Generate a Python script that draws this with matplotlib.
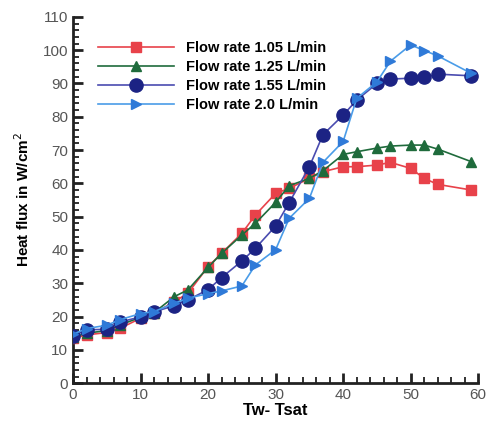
import matplotlib.pyplot as plt
from matplotlib.ticker import MultipleLocator

# Tw - Tsat values (shared by all series)
tw_tsat = [0, 2, 5, 7, 10, 12, 15, 17, 20, 22, 25, 27,
           30, 32, 35, 37, 40, 42, 45, 47, 50, 52, 54, 59]

flux_105 = [13.5, 14.5, 15.2, 16.5, 19.5, 21.0, 24.5, 27.0, 35.0, 39.0, 45.0, 50.5,
            57.0, 58.5, 61.5, 63.5, 65.0, 65.0, 65.5, 66.3, 64.5, 61.5, 59.7, 58.0]
flux_125 = [13.8, 15.0, 15.8, 17.5, 19.8, 21.2, 26.0, 28.0, 34.8, 39.0, 44.5, 48.0,
            54.3, 59.3, 61.5, 63.8, 68.7, 69.5, 70.6, 71.2, 71.5, 71.5, 70.3, 66.5]
flux_155 = [14.1, 16.0, 16.2, 18.4, 19.9, 21.4, 23.3, 25.0, 28.1, 31.7, 36.7, 40.5,
            47.2, 54.2, 65.0, 74.6, 80.5, 85.0, 90.0, 91.3, 91.6, 91.8, 92.8, 92.3]
flux_200 = [14.7, 16.4, 17.4, 19.1, 20.9, 21.5, 24.0, 25.5, 26.9, 27.7, 29.2, 35.5,
            40.1, 49.5, 55.5, 66.3, 72.6, 85.5, 90.5, 96.7, 101.6, 99.9, 98.3, 93.0]

labels = ['Flow rate 1.05 L/min', 'Flow rate 1.25 L/min',
          'Flow rate 1.55 L/min', 'Flow rate 2.0 L/min']

plt.rcParams['font.family'] = ['Liberation Sans', 'DejaVu Sans']

fig = plt.figure(figsize=(4.87, 4.22), dpi=100)
ax = fig.add_axes([0.15, 0.092, 0.832, 0.868])

ax.plot(tw_tsat, flux_105, color='#e8424a', marker='s', markersize=6.5,
        linewidth=1.2, label=labels[0], zorder=3)
ax.plot(tw_tsat, flux_125, color='#1f6b3c', marker='^', markersize=7,
        linewidth=1.2, label=labels[1], zorder=4)
ax.plot(tw_tsat, flux_155, color='#4a4cb0', marker='o', markersize=9.5,
        markerfacecolor='#1c2384', markeredgecolor='#1c2384',
        linewidth=1.2, label=labels[2], zorder=5)
ax.plot(tw_tsat, flux_200, color='#4a9ce8', marker='>', markersize=7,
        markerfacecolor='#2f7ad8', markeredgecolor='#2f7ad8',
        linewidth=1.2, label=labels[3], zorder=6)

ax.set_xlim(0, 60)
ax.set_ylim(0, 110)
ax.xaxis.set_major_locator(MultipleLocator(10))
ax.xaxis.set_minor_locator(MultipleLocator(2))
ax.yaxis.set_major_locator(MultipleLocator(10))
ax.yaxis.set_minor_locator(MultipleLocator(2))

for s in ['top', 'right']:
    ax.spines[s].set_visible(False)
for s in ['left', 'bottom']:
    ax.spines[s].set_linewidth(2)
    ax.spines[s].set_color('#222222')

ax.tick_params(which='major', direction='in', length=7, width=2,
               color='#222222', labelsize=11, labelcolor='#555555')
ax.tick_params(which='minor', direction='in', length=4, width=1.3,
               color='#222222')

ax.set_xlabel('Tw- Tsat', fontsize=12, fontweight='bold', labelpad=1)
ax.set_ylabel('Heat flux in W/cm$^2$', fontsize=11, fontweight='bold', labelpad=8)

ax.legend(loc='upper left', bbox_to_anchor=(0.03, 0.97), frameon=False,
          handlelength=5.2, handletextpad=0.8, labelspacing=0.35,
          prop={'weight': 'bold', 'size': 10.5})

plt.savefig('out.png')
